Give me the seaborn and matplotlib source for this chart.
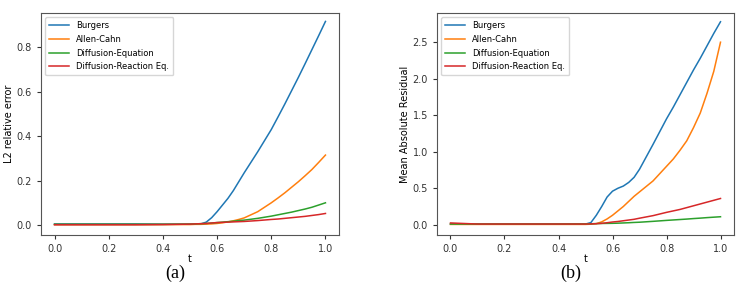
import pandas as pd
import seaborn as sns
import matplotlib
matplotlib.use('Agg')
import matplotlib.pyplot as plt

# time grid shared by all curves
t = [0.0, 0.1, 0.2, 0.3, 0.4, 0.5, 0.52, 0.54, 0.56, 0.58, 0.6, 0.62, 0.64,
     0.66, 0.68, 0.7, 0.75, 0.8, 0.825, 0.85, 0.875, 0.9, 0.925, 0.95, 0.975, 1.0]

names = ['Burgers', 'Allen-Cahn', 'Diffusion-Equation', 'Diffusion-Reaction Eq.']

# (a) L2 relative error
l2_burgers = [0.005, 0.005, 0.005, 0.005, 0.004, 0.004, 0.004, 0.005, 0.013, 0.033, 0.06,
              0.09, 0.12, 0.155, 0.195, 0.235, 0.33, 0.43, 0.487, 0.545, 0.605, 0.665,
              0.727, 0.79, 0.853, 0.917]
l2_allen = [0.002, 0.002, 0.002, 0.002, 0.002, 0.002, 0.003, 0.003, 0.004, 0.005, 0.007,
            0.01, 0.014, 0.019, 0.025, 0.032, 0.06, 0.1, 0.122, 0.145, 0.17, 0.195,
            0.222, 0.25, 0.282, 0.315]
l2_diff = [0.003, 0.003, 0.003, 0.003, 0.003, 0.004, 0.005, 0.006, 0.007, 0.009, 0.011,
           0.013, 0.015, 0.017, 0.02, 0.022, 0.03, 0.04, 0.046, 0.052, 0.058, 0.065,
           0.072, 0.08, 0.09, 0.1]
l2_diffreac = [0.001, 0.001, 0.001, 0.001, 0.002, 0.004, 0.005, 0.006, 0.007, 0.009, 0.011,
               0.012, 0.013, 0.014, 0.015, 0.016, 0.02, 0.025, 0.027, 0.03, 0.033, 0.036,
               0.039, 0.043, 0.047, 0.052]

# (b) mean absolute residual
mar_burgers = [0.01, 0.01, 0.01, 0.01, 0.01, 0.01, 0.03, 0.13, 0.25, 0.38, 0.46,
               0.5, 0.53, 0.58, 0.65, 0.76, 1.1, 1.45, 1.61, 1.78, 1.95, 2.12,
               2.28, 2.45, 2.62, 2.78]
mar_allen = [0.005, 0.005, 0.005, 0.005, 0.005, 0.005, 0.008, 0.015, 0.04, 0.08, 0.13,
             0.19, 0.25, 0.32, 0.39, 0.45, 0.6, 0.8, 0.9, 1.02, 1.15, 1.33,
             1.53, 1.8, 2.1, 2.5]
mar_diff = [0.01, 0.01, 0.01, 0.01, 0.01, 0.012, 0.014, 0.016, 0.018, 0.019, 0.02,
            0.022, 0.025, 0.028, 0.032, 0.035, 0.047, 0.06, 0.066, 0.072, 0.078, 0.085,
            0.091, 0.098, 0.104, 0.11]
mar_diffreac = [0.025, 0.01, 0.01, 0.01, 0.01, 0.01, 0.012, 0.015, 0.02, 0.028, 0.038,
                0.045, 0.055, 0.065, 0.075, 0.09, 0.125, 0.17, 0.19, 0.21, 0.235, 0.26,
                0.285, 0.31, 0.335, 0.36]


def make_df(series):
    rows = []
    for name, vals in zip(names, series):
        for tt, v in zip(t, vals):
            rows.append({'t': tt, 'val': v, 'eq': name})
    return pd.DataFrame(rows)


df_a = make_df([l2_burgers, l2_allen, l2_diff, l2_diffreac])
df_b = make_df([mar_burgers, mar_allen, mar_diff, mar_diffreac])

plt.rcParams['font.size'] = 7
fig = plt.figure(figsize=(7.47, 2.89), dpi=100)
ax1 = fig.add_axes([41 / 747, 1 - 235 / 289, 298 / 747, 222 / 289])
ax2 = fig.add_axes([437 / 747, 1 - 235 / 289, 297 / 747, 222 / 289])

pal = sns.color_palette('tab10', 4)
for ax, df, ylab, cap in [(ax1, df_a, 'L2 relative error', '(a)'),
                          (ax2, df_b, 'Mean Absolute Residual', '(b)')]:
    sns.lineplot(data=df, x='t', y='val', hue='eq', palette=pal, ax=ax, linewidth=1.1)
    ax.set_xlabel('t', fontsize=7, labelpad=0)
    ax.set_ylabel(ylab, fontsize=7, labelpad=2)
    ax.set_xticks([0.0, 0.2, 0.4, 0.6, 0.8, 1.0])
    ax.tick_params(labelsize=7, length=3, colors='#333333')
    for s in ax.spines.values():
        s.set_color('#555555')
    leg = ax.legend(loc='upper left', fontsize=6, handlelength=2.4, borderpad=0.5,
                    labelspacing=0.55, handletextpad=0.8)
    leg.set_title(None)
    ax.text(0.45, -0.172, cap, transform=ax.transAxes, ha='center', va='center',
            fontsize=13, family='Liberation Serif')

ax1.set_ylim(-0.045, 0.955)
ax1.set_yticks([0.0, 0.2, 0.4, 0.6, 0.8])
ax2.set_ylim(-0.14, 2.9)
ax2.set_yticks([0.0, 0.5, 1.0, 1.5, 2.0, 2.5])

fig.savefig('out.png', dpi=100)
